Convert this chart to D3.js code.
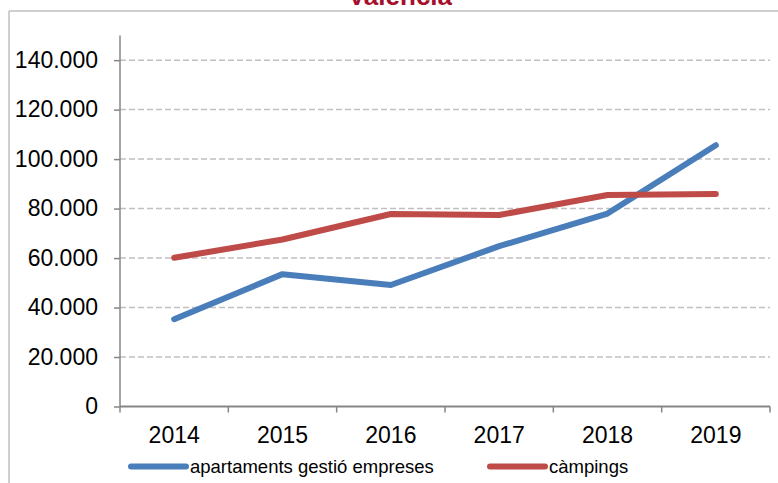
<!DOCTYPE html>
<html>
<head>
<meta charset="utf-8">
<script src="https://cdn.jsdelivr.net/npm/d3@7"></script>
<style>
  html, body { margin: 0; padding: 0; background: #fff; }
  svg { display: block; font-family: "Liberation Sans", Arial, sans-serif; }
</style>
</head>
<body>
<svg id="chart" width="778" height="483"></svg>
<script>
const title = "València";
const years = ["2014", "2015", "2016", "2017", "2018", "2019"];
const apartaments = [35300, 53500, 49100, 64800, 78000, 105600];
const campings = [60100, 67500, 77800, 77400, 85500, 85900];
const yTicks = [0, 20000, 40000, 60000, 80000, 100000, 120000, 140000];
const seriesNames = ["apartaments gestió empreses", "càmpings"];

(function () {
const svg = d3.select("#chart");
const W = 778, H = 483;
const pLeft = 120, pRight = 770, pTop = 35.4, pBottom = 406.5;

const fmt = d3.formatLocale({decimal: ",", thousands: ".", grouping: [3], currency: ["", ""]}).format(",");

const x = d3.scaleBand().domain(years).range([pLeft, pRight]);
const y = d3.scaleLinear().domain([0, 150000]).range([pBottom, pTop]);

// frame
svg.append("line").attr("x1", 9).attr("x2", W).attr("y1", 11).attr("y2", 11)
  .attr("stroke", "#BFBFBF").attr("stroke-width", 1.5);
svg.append("line").attr("x1", 9).attr("x2", 9).attr("y1", 11).attr("y2", H)
  .attr("stroke", "#BFBFBF").attr("stroke-width", 1.5);

// title (cut off at top)
svg.append("text").attr("x", 400).attr("y", 5).attr("text-anchor", "middle")
  .attr("font-size", 26).attr("font-weight", "bold").attr("fill", "#A50F2D").text(title);

// gridlines
svg.append("g").selectAll("line").data(yTicks.filter(d => d > 0)).join("line")
  .attr("x1", pLeft).attr("x2", pRight)
  .attr("y1", d => y(d)).attr("y2", d => y(d))
  .attr("stroke", "#C0C0C0").attr("stroke-width", 1.5).attr("stroke-dasharray", "6,3");

// y axis
const yAxis = svg.append("g").attr("transform", `translate(${pLeft},0)`)
  .call(d3.axisLeft(y).tickValues(yTicks).tickFormat(d => fmt(d)).tickSize(6).tickPadding(16));
yAxis.select(".domain").attr("d", `M0,${pTop}V${pBottom}`).attr("stroke", "#868686").attr("stroke-width", 1.5);
yAxis.selectAll(".tick line").attr("stroke", "#868686").attr("stroke-width", 1.5);
yAxis.selectAll(".tick text").attr("font-size", 23).attr("fill", "#000")
  .attr("font-family", "'Liberation Sans', Arial, sans-serif");

// x axis
const xAxis = svg.append("g").attr("transform", `translate(0,${pBottom})`)
  .call(d3.axisBottom(x).tickSize(0).tickPadding(20));
xAxis.select(".domain").attr("d", `M${pLeft},0H${pRight}`).attr("stroke", "#868686").attr("stroke-width", 2);
xAxis.selectAll(".tick text").attr("font-size", 23).attr("fill", "#000")
  .attr("font-family", "'Liberation Sans', Arial, sans-serif");
const bounds = years.map(d => x(d)).concat([x(years[years.length - 1]) + x.bandwidth()]);
xAxis.append("g").selectAll("line").data(bounds).join("line")
  .attr("x1", d => d).attr("x2", d => d).attr("y1", 0).attr("y2", 6)
  .attr("stroke", "#868686").attr("stroke-width", 1.5);

// lines
const line = d3.line().x((d, i) => x(years[i]) + x.bandwidth() / 2).y(d => y(d));
const series = [
  {name: seriesNames[0], values: apartaments, color: "#4A7EBB"},
  {name: seriesNames[1], values: campings, color: "#BE4B48"}
];
svg.append("g").selectAll("path").data(series).join("path")
  .attr("d", d => line(d.values))
  .attr("fill", "none").attr("stroke", d => d.color).attr("stroke-width", 6)
  .attr("stroke-linejoin", "round").attr("stroke-linecap", "round");

// legend
const legX = [131, 490];
const leg = svg.append("g").selectAll("g").data(series).join("g")
  .attr("transform", (d, i) => `translate(${legX[i]},466.5)`);
leg.append("line").attr("x1", 0).attr("x2", 55).attr("y1", 0).attr("y2", 0)
  .attr("stroke", d => d.color).attr("stroke-width", 6).attr("stroke-linecap", "round");
leg.append("text").attr("x", 59).attr("y", 6).attr("font-size", 18.5).attr("fill", "#000")
  .text(d => d.name);
})();
</script>
</body>
</html>
